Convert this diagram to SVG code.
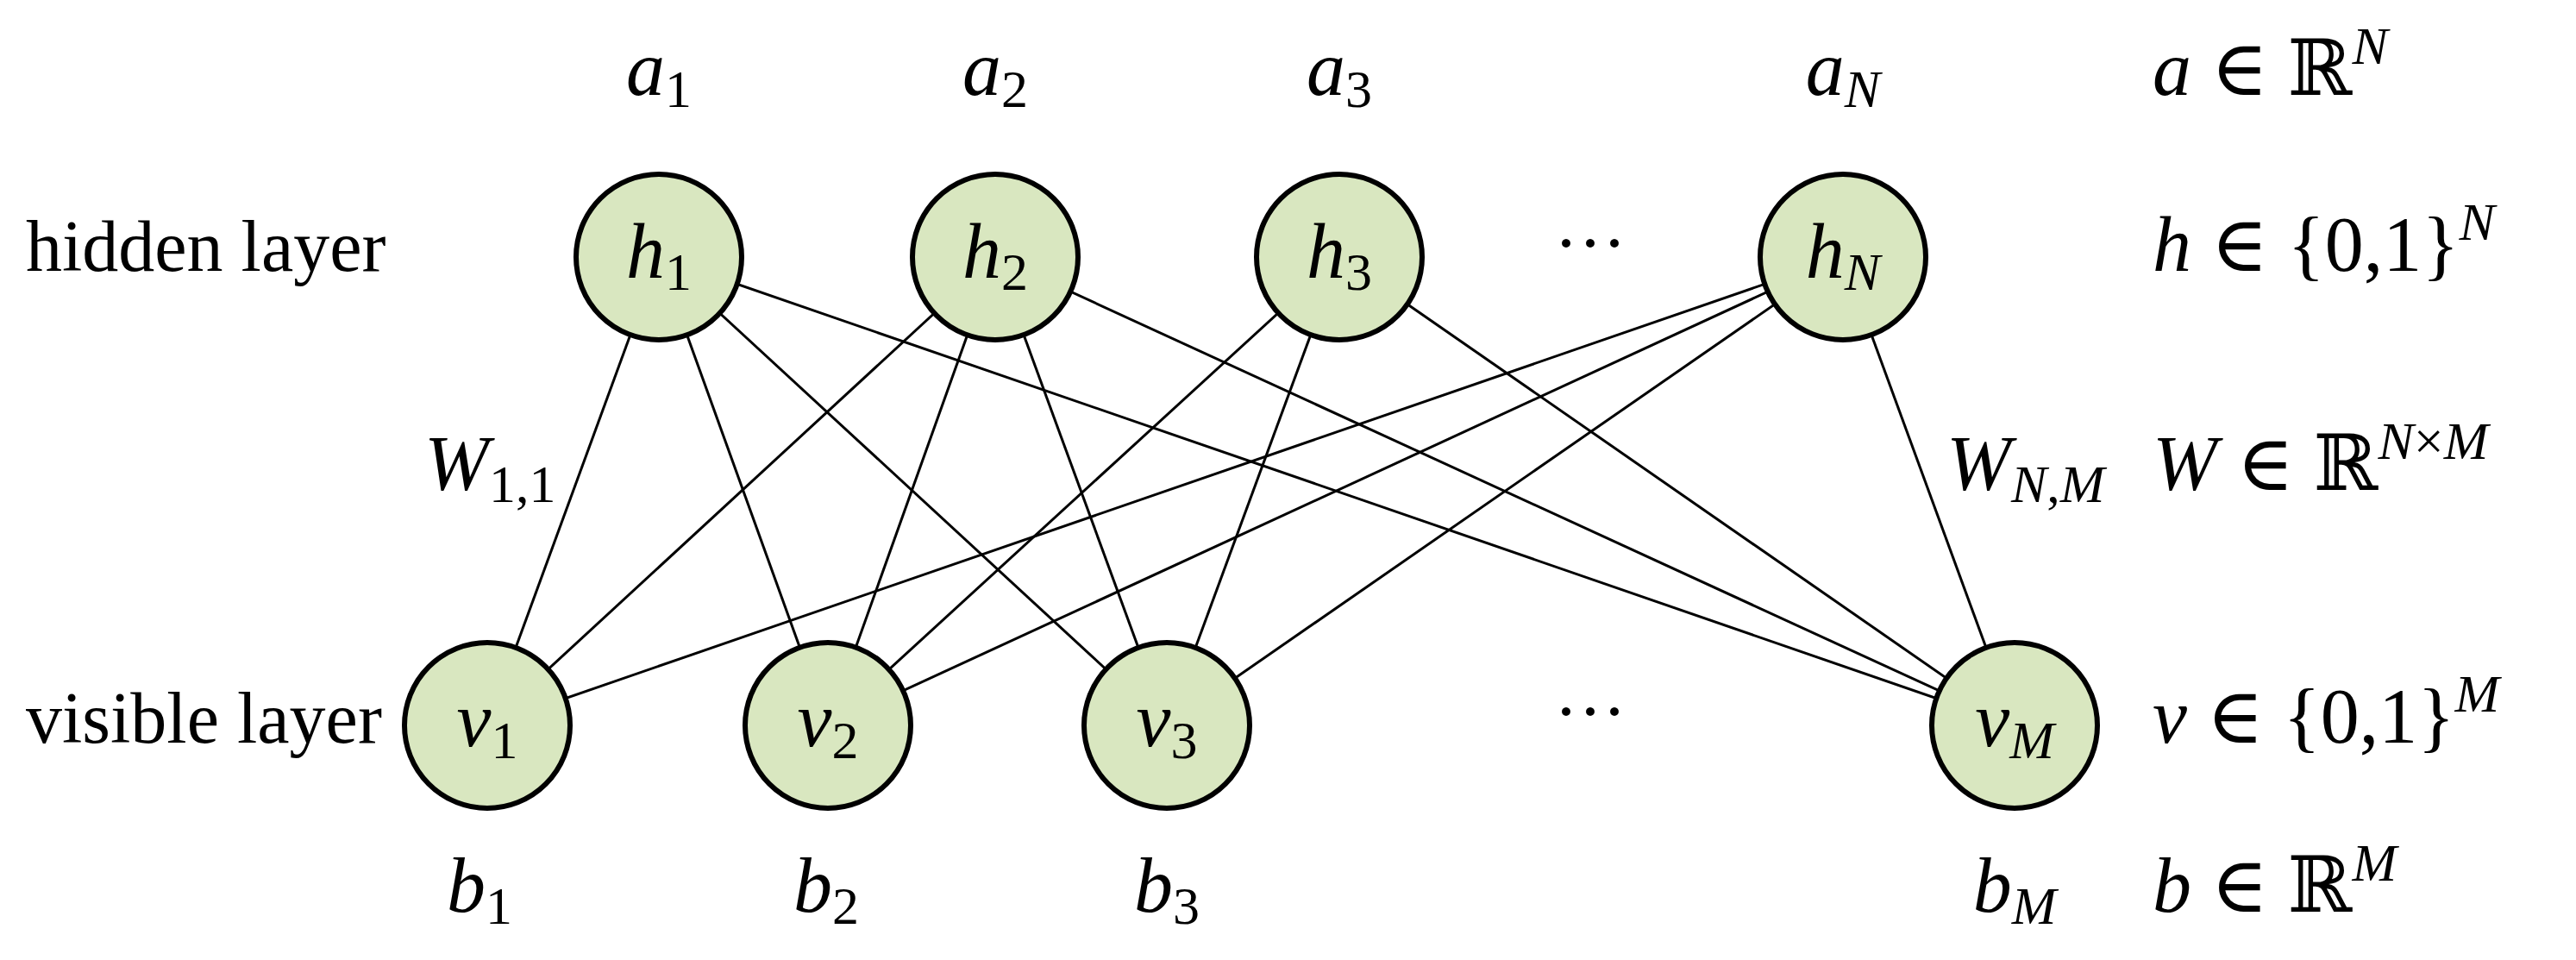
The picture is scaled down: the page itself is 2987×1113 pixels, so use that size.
<svg xmlns="http://www.w3.org/2000/svg" width="2987" height="1113" viewBox="0 0 2987 1113">
<style>
.n{fill:#d9e7c0;stroke:#000;stroke-width:6}
.e{stroke:#000;stroke-width:3}
text{font-family:"Liberation Serif","DejaVu Serif",serif;font-size:84px;fill:#000}
.m{font-style:italic;font-size:90px}
.s{font-style:normal;font-size:62px}
.si{font-style:italic;font-size:62px}
.c{text-anchor:middle}
</style>
<rect width="2987" height="1113" fill="#fff"/>
<g id="connectors">
<line class="e" x1="764" y1="298" x2="565" y2="841"/>
<line class="e" x1="764" y1="298" x2="960" y2="841"/>
<line class="e" x1="764" y1="298" x2="1353" y2="841"/>
<line class="e" x1="764" y1="298" x2="2336" y2="841"/>
<line class="e" x1="1154" y1="298" x2="565" y2="841"/>
<line class="e" x1="1154" y1="298" x2="960" y2="841"/>
<line class="e" x1="1154" y1="298" x2="1353" y2="841"/>
<line class="e" x1="1154" y1="298" x2="2336" y2="841"/>
<line class="e" x1="1553" y1="298" x2="960" y2="841"/>
<line class="e" x1="1553" y1="298" x2="1353" y2="841"/>
<line class="e" x1="1553" y1="298" x2="2336" y2="841"/>
<line class="e" x1="2137" y1="298" x2="565" y2="841"/>
<line class="e" x1="2137" y1="298" x2="960" y2="841"/>
<line class="e" x1="2137" y1="298" x2="1353" y2="841"/>
<line class="e" x1="2137" y1="298" x2="2336" y2="841"/>
</g>
<g id="h1"><circle class="n" cx="764" cy="298" r="96"/><text class="m c" x="764" y="322">h<tspan class="s" dy="14">1</tspan></text></g>
<g id="h2"><circle class="n" cx="1154" cy="298" r="96"/><text class="m c" x="1154" y="322">h<tspan class="s" dy="14">2</tspan></text></g>
<g id="h3"><circle class="n" cx="1553" cy="298" r="96"/><text class="m c" x="1553" y="322">h<tspan class="s" dy="14">3</tspan></text></g>
<g id="hN"><circle class="n" cx="2137" cy="298" r="96"/><text class="m c" x="2137" y="322">h<tspan class="si" dy="14">N</tspan></text></g>
<g id="v1"><circle class="n" cx="565" cy="841" r="96"/><text class="m c" x="565" y="865">v<tspan class="s" dy="14">1</tspan></text></g>
<g id="v2"><circle class="n" cx="960" cy="841" r="96"/><text class="m c" x="960" y="865">v<tspan class="s" dy="14">2</tspan></text></g>
<g id="v3"><circle class="n" cx="1353" cy="841" r="96"/><text class="m c" x="1353" y="865">v<tspan class="s" dy="14">3</tspan></text></g>
<g id="vM"><circle class="n" cx="2336" cy="841" r="96"/><text class="m c" x="2336" y="865">v<tspan class="si" dy="14">M</tspan></text></g>
<g id="labels">
<text x="30" y="314">hidden layer</text>
<text x="30" y="861">visible layer</text>
<text class="c" x="1844" y="310">···</text>
<text class="c" x="1844" y="853">···</text>
<text class="m c" x="764" y="110">a<tspan class="s" dy="14">1</tspan></text>
<text class="m c" x="1154" y="110">a<tspan class="s" dy="14">2</tspan></text>
<text class="m c" x="1553" y="110">a<tspan class="s" dy="14">3</tspan></text>
<text class="m c" x="2137" y="110">a<tspan class="si" dy="14">N</tspan></text>
<text class="m c" x="556" y="1057">b<tspan class="s" dy="14">1</tspan></text>
<text class="m c" x="958" y="1057">b<tspan class="s" dy="14">2</tspan></text>
<text class="m c" x="1353" y="1057">b<tspan class="s" dy="14">3</tspan></text>
<text class="m c" x="2336" y="1057">b<tspan class="si" dy="14">M</tspan></text>
<text class="m" x="492" y="568">W<tspan class="s" dy="14">1,1</tspan></text>
<text class="m" x="2257" y="568">W<tspan class="si" dy="14">N</tspan><tspan class="s">,</tspan><tspan class="si">M</tspan></text>
<text class="m" x="2496" y="110">a <tspan style="font-style:normal">∈ ℝ</tspan><tspan class="si" dy="-36">N</tspan></text>
<text class="m" x="2496" y="314">h <tspan style="font-style:normal">∈ {0,1}</tspan><tspan class="si" dy="-36">N</tspan></text>
<text class="m" x="2496" y="568">W <tspan style="font-style:normal">∈ ℝ</tspan><tspan class="si" dy="-36">N</tspan><tspan class="s">×</tspan><tspan class="si">M</tspan></text>
<text class="m" x="2496" y="861">v <tspan style="font-style:normal">∈ {0,1}</tspan><tspan class="si" dy="-36">M</tspan></text>
<text class="m" x="2496" y="1057">b <tspan style="font-style:normal">∈ ℝ</tspan><tspan class="si" dy="-36">M</tspan></text>
</g>
</svg>
